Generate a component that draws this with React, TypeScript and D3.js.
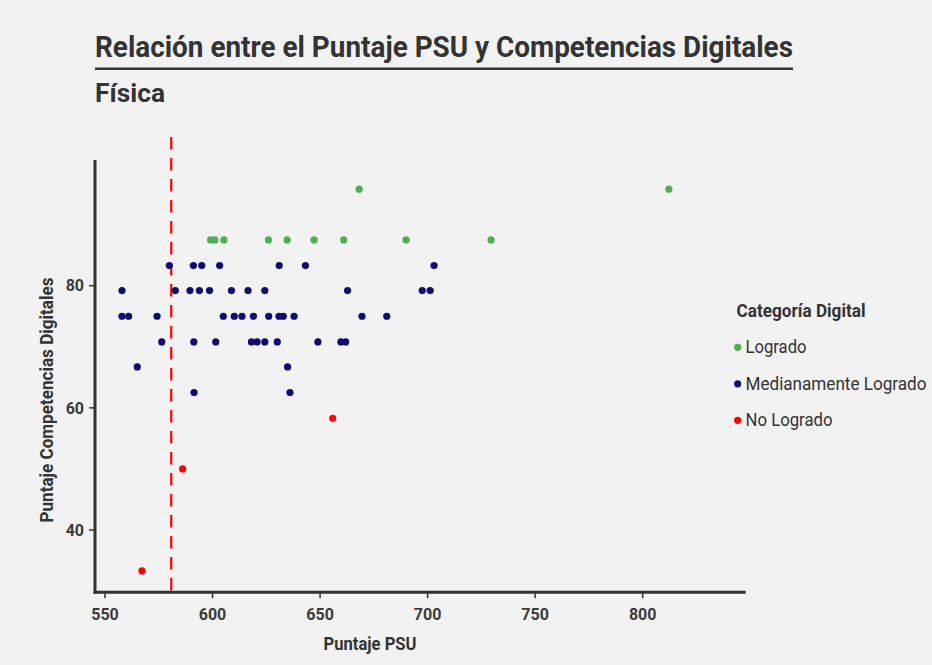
import * as d3 from "d3";

// Logrado
const logradoPsu = [599.1, 601.1, 605.3, 626.0, 634.7, 647.2, 661.0, 690.0, 729.5, 668.2, 812.2];
const logradoComp = [87.5, 87.5, 87.5, 87.5, 87.5, 87.5, 87.5, 87.5, 87.5, 95.8, 95.8];

// Medianamente Logrado
const medioPsu = [
  579.9, 591.1, 595.0, 603.3, 631.0, 643.2, 703.0,
  557.9, 582.7, 589.5, 593.9, 598.6, 608.8, 616.5, 624.3, 662.8, 697.5, 701.2,
  557.9, 561.0, 574.2, 605.0, 610.1, 613.7, 619.0, 626.1, 630.9, 632.9, 637.9, 669.5, 681.0,
  576.4, 591.3, 601.5, 618.1, 620.7, 624.3, 630.1, 649.0, 659.7, 661.9,
  565.0, 634.9,
  591.4, 636.0,
];
const medioComp = [
  83.3, 83.3, 83.3, 83.3, 83.3, 83.3, 83.3,
  79.2, 79.2, 79.2, 79.2, 79.2, 79.2, 79.2, 79.2, 79.2, 79.2, 79.2,
  75, 75, 75, 75, 75, 75, 75, 75, 75, 75, 75, 75, 75,
  70.8, 70.8, 70.8, 70.8, 70.8, 70.8, 70.8, 70.8, 70.8, 70.8,
  66.7, 66.7,
  62.5, 62.5,
];

// No Logrado
const noLogradoPsu = [655.9, 586.1, 567.2];
const noLogradoComp = [58.3, 50, 33.3];

const categories = ["Logrado", "Medianamente Logrado", "No Logrado"];
const categoryColors = ["#4caf50", "#100b6e", "#ff0000"];
// rendered widths of the condensed face in the reference
const categoryWidths = [61, 181, 87];

const xTicks = [550, 600, 650, 700, 750, 800];
const yTicks = [40, 60, 80];
const psuCutoff = 580.8;

const W = 932;
const H = 665;
const FONT = "Roboto, 'Noto Sans', sans-serif";
const INK = "#333333";

export default function App() {
  const x = d3.scaleLinear().domain([545.35, 847.9]).range([95, 745.7]);
  const y = d3.scaleLinear().domain([29.8, 104.35]).range([592.3, 137]);

  const groups = [
    { psu: logradoPsu, comp: logradoComp },
    { psu: medioPsu, comp: medioComp },
    { psu: noLogradoPsu, comp: noLogradoComp },
  ];

  const x0 = x.range()[0];
  const x1 = x.range()[1];
  const yBottom = y.range()[0];
  const yAxisTop = y(100.6);
  const squeeze = { lengthAdjust: "spacingAndGlyphs" as const };

  return (
    <div style={{ position: "fixed", left: 0, top: 0, width: W, height: H, background: "#f2f2f2" }}>
      <svg width={W} height={H} style={{ display: "block", fontFamily: FONT }}>
        <rect width={W} height={H} fill="#f2f2f2" />

        {/* title */}
        <text x={95} y={57} fontSize={29} fontWeight="bold" fill={INK} textLength={698} {...squeeze}>
          Relación entre el Puntaje PSU y Competencias Digitales
        </text>
        <line x1={95} x2={793} y1={68.7} y2={68.7} stroke={INK} strokeWidth={2.5} />
        <text x={95} y={101.5} fontSize={26} fontWeight="bold" fill={INK} textLength={70} {...squeeze}>
          Física
        </text>

        {/* cutoff line */}
        <line
          x1={x(psuCutoff)}
          x2={x(psuCutoff)}
          y1={137}
          y2={yBottom}
          stroke="#ff0000"
          strokeWidth={2.2}
          strokeDasharray="12.5 8.5"
        />

        {/* points */}
        {groups.map((g, gi) =>
          g.psu.map((v, i) => (
            <circle key={`${gi}-${i}`} cx={x(v)} cy={y(g.comp[i])} r={3.6} fill={categoryColors[gi]} />
          ))
        )}

        {/* axes */}
        <line x1={x0} x2={x0} y1={yAxisTop} y2={yBottom + 1.5} stroke={INK} strokeWidth={3} />
        <line x1={x0 - 1.5} x2={x1} y1={yBottom} y2={yBottom} stroke={INK} strokeWidth={3} />
        {xTicks.map((t) => (
          <g key={t}>
            <line x1={x(t)} x2={x(t)} y1={yBottom} y2={yBottom + 6} stroke={INK} strokeWidth={1.5} />
            <text x={x(t)} y={619.5} textAnchor="middle" fontSize={16} fontWeight="bold" fill="#3a3a3a">
              {t}
            </text>
          </g>
        ))}
        {yTicks.map((t) => (
          <g key={t}>
            <line x1={x0 - 6} x2={x0} y1={y(t)} y2={y(t)} stroke={INK} strokeWidth={1.5} />
            <text x={84} y={y(t)} dy="0.36em" textAnchor="end" fontSize={16} fontWeight="bold" fill="#3a3a3a">
              {t}
            </text>
          </g>
        ))}

        {/* axis titles */}
        <text x={370} y={650} textAnchor="middle" fontSize={17.5} fontWeight="bold" fill={INK} textLength={93} {...squeeze}>
          Puntaje PSU
        </text>
        <text
          transform="translate(53,400) rotate(-90)"
          textAnchor="middle"
          fontSize={17.5}
          fontWeight="bold"
          fill={INK}
          textLength={245}
          {...squeeze}
        >
          Puntaje Competencias Digitales
        </text>

        {/* legend */}
        <text x={736.5} y={316.7} fontSize={18.5} fontWeight="bold" fill={INK} textLength={129} {...squeeze}>
          Categoría Digital
        </text>
        {categories.map((c, i) => {
          const cy = 347.3 + i * 36.5;
          return (
            <g key={c}>
              <circle cx={737.7} cy={cy} r={3.6} fill={categoryColors[i]} />
              <text x={745.5} y={cy + 6} fontSize={18.5} fill={INK} textLength={categoryWidths[i]} {...squeeze}>
                {c}
              </text>
            </g>
          );
        })}
      </svg>
    </div>
  );
}
